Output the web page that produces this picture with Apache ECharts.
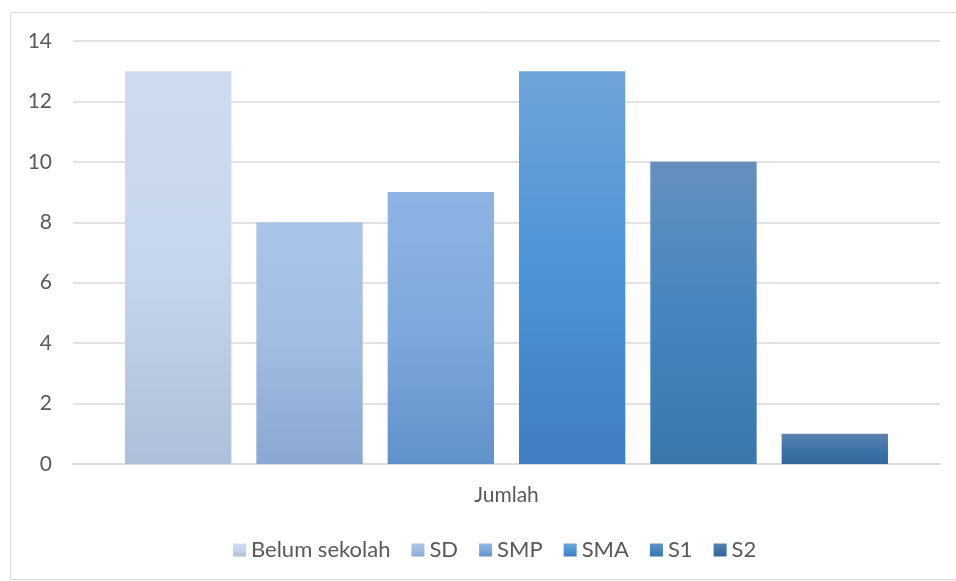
<!DOCTYPE html>
<html><head><meta charset="utf-8">
<script src="https://cdn.jsdelivr.net/npm/echarts@6/dist/echarts.min.js"></script>
<style>html,body{margin:0;padding:0;background:#fff}#c{width:956px;height:581px}</style>
</head><body><div id="c"></div>
<script>
var categories = ['Jumlah'];
var seriesNames = ['Belum sekolah', 'SD', 'SMP', 'SMA', 'S1', 'S2'];
var seriesValues = [13, 8, 9, 13, 10, 1];
var yTicks = [0, 2, 4, 6, 8, 10, 12, 14];
var gradTop = ['#CDDCF0', '#AAC5E9', '#8DB4E3', '#6FA4DA', '#6590BE', '#5B82AC'];
var gradMid = ['#C6D6EC', '#A2BCE2', '#7FA9DC', '#4C94D6', '#4585C1', '#3E74A8'];
var gradBot = ['#AEBFD9', '#8AA8D2', '#6191CA', '#3F7EC0', '#3977AC', '#33669A'];

var chart = echarts.init(document.getElementById('c'));
var FONT = 'Lato, "Noto Sans", sans-serif';
var series = seriesNames.map(function (n, i) {
  return {
    name: n, type: 'bar', data: [seriesValues[i]],
    barGap: '23.5%', barCategoryGap: '12%',
    itemStyle: { color: new echarts.graphic.LinearGradient(0, 0, 0, 1, [
      { offset: 0, color: gradTop[i] }, { offset: 0.5, color: gradMid[i] }, { offset: 1, color: gradBot[i] }]) }
  };
});
chart.setOption({
  animation: false,
  graphic: [{ type: 'rect', shape: { x: 10.5, y: 12.5, width: 960, height: 567 }, style: { fill: 'none', stroke: '#D9D9D9', lineWidth: 1 }, silent: true }],
  grid: { left: 73, right: 16, top: 41, bottom: 117 },
  legend: {
    data: seriesNames, top: 534, left: 228, itemWidth: 13, itemHeight: 13, itemGap: 21,
    icon: 'rect', textStyle: { color: '#595959', fontSize: 22, fontFamily: FONT }
  },
  xAxis: {
    type: 'category', data: categories,
    axisLine: { lineStyle: { color: '#D9D9D9', width: 1.5 } }, axisTick: { show: false },
    axisLabel: { color: '#595959', fontSize: 21, fontFamily: FONT, margin: 21 }
  },
  yAxis: {
    type: 'value', min: yTicks[0], max: yTicks[yTicks.length - 1], interval: 2,
    axisLine: { show: false }, axisTick: { show: false },
    splitLine: { lineStyle: { color: '#D9D9D9', width: 1.5 } },
    axisLabel: { color: '#595959', fontSize: 21, fontFamily: FONT, margin: 21 }
  },
  series: series
});
</script></body></html>
